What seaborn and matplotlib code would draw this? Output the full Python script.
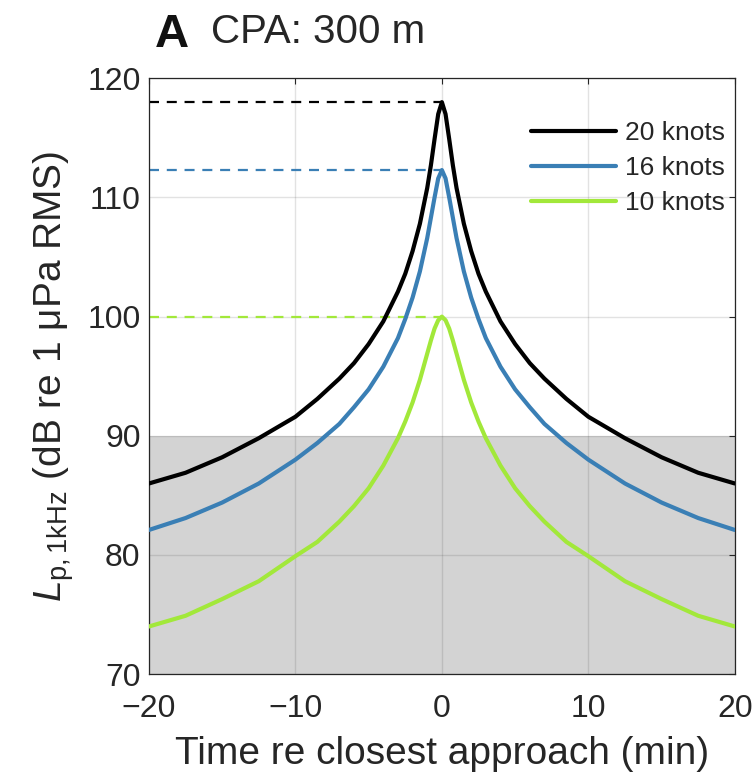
import matplotlib
matplotlib.use("Agg")
import matplotlib.pyplot as plt
import seaborn as sns
import pandas as pd

# time re closest approach (min)
time_min = [-20, -17.5, -15, -12.5, -10, -8.5, -7, -6, -5, -4, -3, -2.5, -2, -1.5, -1, -0.75, -0.5, -0.25, 0,
            0.25, 0.5, 0.75, 1, 1.5, 2, 2.5, 3, 4, 5, 6, 7, 8.5, 10, 12.5, 15, 17.5, 20]

# received level, dB re 1 uPa RMS
lp_20kn = [86.0, 86.9, 88.2, 89.8, 91.6, 93.1, 94.8, 96.1, 97.7, 99.6, 102.1, 103.6, 105.5, 107.8, 110.8, 112.7, 114.9, 117.0, 118.0,
           117.0, 114.9, 112.7, 110.8, 107.8, 105.5, 103.6, 102.1, 99.6, 97.7, 96.1, 94.8, 93.1, 91.6, 89.8, 88.2, 86.9, 86.0]
lp_16kn = [82.1, 83.1, 84.4, 86.0, 88.0, 89.4, 91.0, 92.4, 93.9, 95.8, 98.2, 99.8, 101.6, 103.8, 106.6, 108.3, 110.0, 111.6, 112.3,
           111.6, 110.0, 108.3, 106.6, 103.8, 101.6, 99.8, 98.2, 95.8, 93.9, 92.4, 91.0, 89.4, 88.0, 86.0, 84.4, 83.1, 82.1]
lp_10kn = [74.0, 74.9, 76.3, 77.8, 79.9, 81.1, 82.8, 84.1, 85.6, 87.5, 89.8, 91.2, 92.8, 94.7, 96.9, 98.0, 99.0, 99.7, 100.0,
           99.7, 99.0, 98.0, 96.9, 94.7, 92.8, 91.2, 89.8, 87.5, 85.6, 84.1, 82.8, 81.1, 79.9, 77.8, 76.3, 74.9, 74.0]

speeds = ["20 knots", "16 knots", "10 knots"]
peak_levels = [118.0, 112.3, 100.0]
threshold = 90
colors = ["#000000", "#3a7fb5", "#a2e83a"]

df = pd.concat([
    pd.DataFrame({"time": time_min, "level": lp_20kn, "speed": speeds[0]}),
    pd.DataFrame({"time": time_min, "level": lp_16kn, "speed": speeds[1]}),
    pd.DataFrame({"time": time_min, "level": lp_10kn, "speed": speeds[2]}),
])

sns.set_theme(style="white")
plt.rcParams["font.family"] = ["Liberation Sans", "DejaVu Sans"]
plt.rcParams["mathtext.fontset"] = "custom"
plt.rcParams["mathtext.rm"] = "Liberation Sans"
plt.rcParams["mathtext.it"] = "Liberation Sans:italic"

fig = plt.figure(figsize=(7.56, 7.83), dpi=100)
ax = fig.add_axes([0.197, 0.139, 0.775, 0.761])

# shaded band below the 90 dB threshold
ax.axhspan(70, threshold, color="#d3d3d3", zorder=1, lw=0)

sns.lineplot(data=df, x="time", y="level", hue="speed", hue_order=speeds,
             palette=colors, linewidth=3.0, ax=ax, zorder=3, sort=False)

# dashed guides at each peak level
for lvl, c in zip(peak_levels, colors):
    ax.plot([-20, 0], [lvl, lvl], color=c, lw=1.6, ls=(0, (4.5, 3.5)), zorder=2.5)

ax.set_xlim(-20, 20)
ax.set_ylim(70, 120)
ax.set_xticks([-20, -10, 0, 10, 20])
ax.set_yticks([70, 80, 90, 100, 110, 120])
ax.set_axisbelow("line")
ax.grid(True, color="#262626", alpha=0.13, lw=1)
ax.tick_params(direction="in", length=4, width=0.8, top=True, right=True,
               labelsize=23, colors="#262626")
ax.tick_params(axis="x", pad=14)
ax.tick_params(axis="y", pad=6)
for s in ax.spines.values():
    s.set_color("#262626")
    s.set_linewidth(0.9)

ax.set_xlabel("Time re closest approach (min)", fontsize=28, color="#262626", labelpad=9)
ax.set_ylabel(r"$L_{\mathregular{p,1kHz}}$ (dB re 1 μPa RMS)", fontsize=28, color="#262626", labelpad=8)

leg = ax.legend(loc="upper right", bbox_to_anchor=(1.01, 0.955), frameon=False, fontsize=19,
                handlelength=3.2, handletextpad=0.35, labelspacing=0.42, borderaxespad=0.2)

fig.text(155 / 756, 1 - 47 / 783, "A", fontsize=34, fontweight="bold", va="baseline", color="#111111")
fig.text(211 / 756, 1 - 43 / 783, "CPA: 300 m", fontsize=29, va="baseline", color="#262626")

fig.savefig("out.png", dpi=100)
